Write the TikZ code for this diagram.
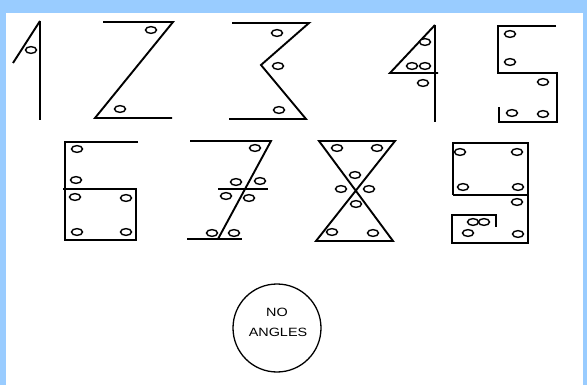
\documentclass[tikz,border=0pt]{standalone}
\usepackage{fontspec}
\setsansfont{Liberation Sans}
\usepackage{tikz}
\definecolor{FrameBlue}{HTML}{99CCFF}
\tikzset{
  stroke/.style={line width=1.9pt, line join=miter, line cap=butt},
  hole/.style={line width=1.4pt, fill=white},
}

\begin{document}
\begin{tikzpicture}[x=1pt, y=-1pt]
  % Frame & paper
  \useasboundingbox (0,0) rectangle (587,385);
  \fill[FrameBlue] (0,0) rectangle (587,385);
  \fill[white] (6,13) rectangle (583,385);

  % Digit 1
  \draw[stroke] (40,21) -- (40,120);
  \draw[stroke] (40,21) -- (13,63);
  \draw[hole] (31,50) ellipse (5.5 and 3.4);

  % Digit 2
  \draw[stroke] (103,22) -- (173,22) -- (95,118) -- (172,118);
  \foreach \p in {(151,30), (120,109)} {
    \draw[hole] \p ellipse (5.5 and 3.4);
  }

  % Digit 3
  \draw[stroke] (232,23) -- (309,23) -- (261,65) -- (306,119) -- (229,119);
  \foreach \p in {(277,33), (278,66), (279,110)} {
    \draw[hole] \p ellipse (5.5 and 3.4);
  }

  % Digit 4
  \draw[stroke] (435,25) -- (435,122);
  \draw[stroke] (435,25) -- (390,73) -- (438,73);
  \foreach \p in {(425,42), (412,66), (425,66), (423,83)} {
    \draw[hole] \p ellipse (5.5 and 3.4);
  }

  % Digit 5
  \draw[stroke] (556,26) -- (498,26) -- (498,73) -- (557,73) -- (557,122)
    -- (499,122) -- (499,107);
  \foreach \p in {(510,34), (510,62), (543,82), (512,113), (543,114)} {
    \draw[hole] \p ellipse (5.5 and 3.4);
  }

  % Digit 6
  \draw[stroke] (138,142) -- (65,142) -- (65,240) -- (136,240) -- (136,189) -- (63,189);
  \foreach \p in {(77,149), (76,180), (75,197), (126,198), (77,232), (126,232)} {
    \draw[hole] \p ellipse (5.5 and 3.4);
  }

  % Digit 7
  \draw[stroke] (190,141) -- (271,141) -- (218,239);
  \draw[stroke] (187,239) -- (242,239);
  \draw[stroke] (218,189) -- (268,189);
  \foreach \p in {(255,148), (236,182), (260,181), (226,196), (249,198), (212,233), (234,233)} {
    \draw[hole] \p ellipse (5.5 and 3.4);
  }

  % Digit 8
  \draw[stroke] (316,241) -- (395,141) -- (319,141) -- (393,241) -- cycle;
  \foreach \p in {(337,148), (377,148), (355,175), (341,189), (369,189), (356,204), (332,232), (373,233)} {
    \draw[hole] \p ellipse (5.5 and 3.4);
  }

  % Digit 9
  \draw[stroke] (453,195) -- (453,143) -- (528,143) -- (528,243) -- (452,243)
    -- (452,215) -- (496,215) -- (496,227);
  \draw[stroke] (453,195) -- (528,195);
  \foreach \p in {(460,152), (517,152), (463,187), (518,187), (517,202), (473,222), (484,222), (468,233), (518,234)} {
    \draw[hole] \p ellipse (5.5 and 3.4);
  }

  % No angles badge
  \node[draw, circle, line width=1.3pt, minimum size=88pt, inner sep=0pt] (badge) at (277,328) {};
  \node[font=\sffamily\fontsize{12}{14}\selectfont] (no) at (277,312) {\scalebox{1.2}[1]{NO}};
  \node[font=\sffamily\fontsize{12}{14}\selectfont] (angles) at (278,332) {\scalebox{1.2}[1]{ANGLES}};
\end{tikzpicture}
\end{document}
